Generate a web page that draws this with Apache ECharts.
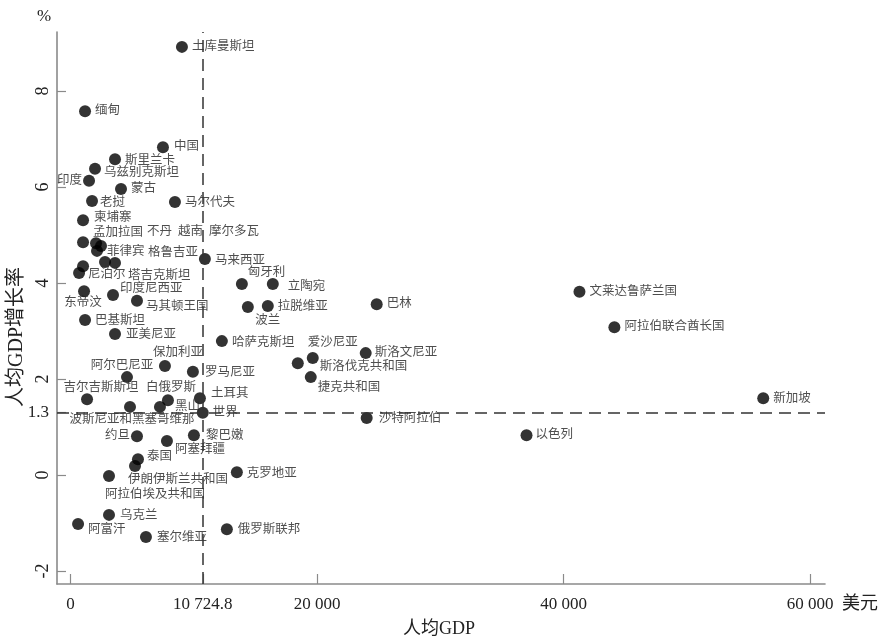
<!DOCTYPE html>
<html>
<head>
<meta charset="utf-8">
<script src="https://cdn.jsdelivr.net/npm/echarts@6/dist/echarts.min.js"></script>
<style>html,body{margin:0;padding:0;background:#fff}#c{width:880px;height:643px}</style>
</head>
<body>
<div id="c"></div>
<script>
// ---- data ----
const countries = ['土库曼斯坦','缅甸','中国','斯里兰卡','乌兹别克斯坦','印度','蒙古','老挝','马尔代夫','柬埔寨',
  '孟加拉国','不丹','越南','摩尔多瓦','菲律宾','格鲁吉亚','尼泊尔','塔吉克斯坦','马来西亚','匈牙利',
  '立陶宛','波兰','拉脱维亚','巴林','哈萨克斯坦','爱沙尼亚','斯洛伐克共和国','捷克共和国','斯洛文尼亚','罗马尼亚',
  '土耳其','世界','沙特阿拉伯','黎巴嫩','保加利亚','阿尔巴尼亚','亚美尼亚','吉尔吉斯斯坦','白俄罗斯','黑山',
  '波斯尼亚和黑塞哥维那','约旦','阿塞拜疆','泰国','伊朗伊斯兰共和国','阿拉伯埃及共和国','克罗地亚','乌克兰','阿富汗','塞尔维亚',
  '俄罗斯联邦','以色列','新加坡','文莱达鲁萨兰国','阿拉伯联合酋长国','东帝汶','印度尼西亚','马其顿王国','巴基斯坦'];
const gdpPerCapita = [9034,1175,7495,3606,1985,1499,4092,1742,8467,1013,
  1013,2066,2471,2147,2795,3606,689,1013,10898,13897,
  16407,14382,16002,24834,12275,19648,18434,19486,23943,9925,
  10493,10724.8,24023,10006,7657,4578,3606,1337,7900,7252,
  4821,5388,7819,5469,5226,3119,13490,3119,608,6117,
  12680,36987,56190,41282,44115,1094,3444,5388,1175];
const gdpGrowth = [8.92,7.58,6.83,6.58,6.38,6.13,5.96,5.71,5.69,5.31,
  4.85,4.83,4.77,4.67,4.44,4.42,4.21,4.35,4.50,3.98,
  3.98,3.50,3.52,3.56,2.79,2.44,2.33,2.04,2.54,2.15,
  1.60,1.30,1.19,0.83,2.27,2.04,2.94,1.58,1.56,1.42,
  1.42,0.81,0.71,0.33,0.19,-0.02,0.06,-0.83,-1.02,-1.29,
  -1.13,0.83,1.60,3.82,3.08,3.83,3.75,3.63,3.23];
const xTickValues = [0, 10724.8, 20000, 40000, 60000];
const xTickLabels = ['0', '10 724.8', '20 000', '40 000', '60 000'];
const yTickValues = [-2, 0, 2, 4, 6, 8];
const worldGdpPerCapita = 10724.8;
const worldGrowth = 1.3;

// ---- label placement (style) : [align, dx, dy] from dot centre ----
const labelPlace = [['l',10,0],['l',10,0],['l',11,0],['l',10,2],['l',9,4],['r',-7,0],['l',10,0],['l',8,2],['l',10,1],['l',11,-2],
  ['l',10,-10],['l',51,-11],['l',77,-14],['l',112,-19],['l',2,-10],['l',33,-10],['l',9,2],['l',45,9],['l',10,2],['l',6,-11],
  ['l',15,3],['c',20,14],['l',10,1],['l',10,0],['l',10,2],['c',20,-15],['l',22,4],['l',7,11],['l',9,0],['l',12,1],
  ['l',11,-5],['l',10,0],['l',12,1],['l',12,1],['c',13,-13],['c',-5,-11],['l',11,1],['c',14,-11],['c',3,-12],['l',15,0],
  ['c',2,13],['r',-7,0],['l',8,9],['l',9,-2],['l',-7,14],['l',-4,19],['l',10,2],['l',11,1],['l',10,6],['l',11,1],
  ['l',11,0],['l',9,0],['l',10,0],['l',10,0],['l',10,0],['c',-1,12],['l',7,-6],['l',9,6],['l',10,1]];
const alignMap = {l:'left', r:'right', c:'center'};

const FONT = '"Liberation Serif", "Noto Sans CJK SC", serif';
const TXT = '#222';
const AXIS = '#8a8a8a';

const points = countries.map((n, i) => ({
  name: n,
  value: [gdpPerCapita[i], gdpGrowth[i]],
  label: {
    show: true, position: 'inside', formatter: n,
    align: alignMap[labelPlace[i][0]], verticalAlign: 'middle',
    offset: [labelPlace[i][1], labelPlace[i][2]],
    color: TXT, fontSize: 12.5, fontFamily: FONT, textBorderWidth: 0
  }
}));

const chart = echarts.init(document.getElementById('c'));
chart.setOption({
  animation: false,
  backgroundColor: '#fff',
  grid: {left: 57, right: 55, top: 32, bottom: 59, containLabel: false},
  xAxis: {
    type: 'value', min: -1100, max: 61200,
    splitLine: {show: false},
    axisLine: {show: true, onZero: false, lineStyle: {color: AXIS, width: 1.6}},
    axisTick: {show: true, inside: true, length: 10, customValues: xTickValues, lineStyle: {color: AXIS, width: 1.2}},
    axisLabel: {customValues: xTickValues, margin: 12, color: TXT, fontSize: 17, fontFamily: FONT,
      formatter: v => { const k = xTickValues.indexOf(v); return k >= 0 ? xTickLabels[k] : ''; }}
  },
  yAxis: {
    type: 'value', min: -2.27, max: 9.23,
    splitLine: {show: false},
    axisLine: {show: true, onZero: false, lineStyle: {color: AXIS, width: 1.6}},
    axisTick: {show: true, inside: true, length: 9, customValues: yTickValues.concat([worldGrowth]), lineStyle: {color: AXIS, width: 1.2}},
    axisLabel: {customValues: yTickValues, rotate: 90, margin: 5, color: TXT, fontSize: 18, fontFamily: FONT}
  },
  graphic: [
    {type: 'text', left: 37, top: 8, style: {text: '%', fill: TXT, font: '17px ' + FONT}},
    {type: 'text', left: 842, top: 595, style: {text: '美元', fill: TXT, font: '18px ' + FONT}},
    {type: 'text', left: 403, top: 620, style: {text: '人均GDP', fill: TXT, font: '18px ' + FONT}},
    {type: 'text', x: 7, y: 407, rotation: Math.PI / 2, style: {text: '人均GDP增长率', fill: TXT, font: '20px ' + FONT}}
  ],
  series: [{
    type: 'scatter',
    symbol: 'circle', symbolSize: 12,
    itemStyle: {color: '#000'},
    data: points,
    markLine: {
      silent: true, symbol: 'none',
      lineStyle: {color: '#333', width: 1.5, type: [12, 7]},
      data: [
        {xAxis: worldGdpPerCapita, label: {show: false}},
        {yAxis: worldGrowth, label: {show: true, position: 'start', formatter: '1.3', distance: 8, color: TXT, fontSize: 17, fontFamily: FONT}}
      ]
    }
  }]
});
</script>
</body>
</html>
